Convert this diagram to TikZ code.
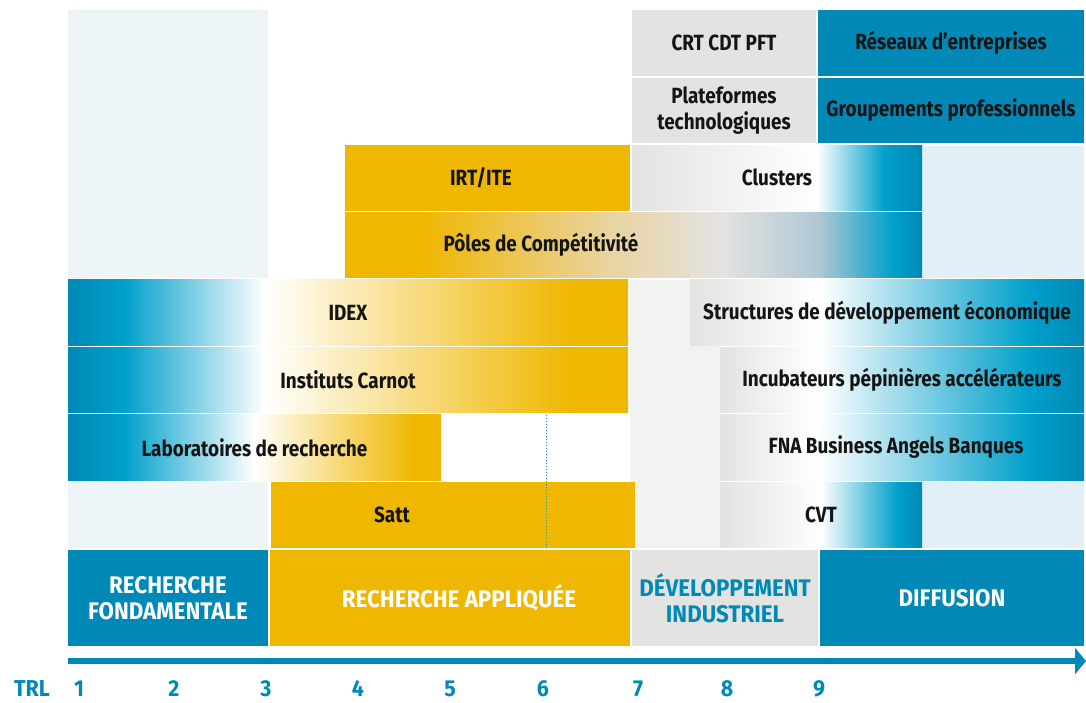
\documentclass[tikz,border=0pt]{standalone}
\usepackage{fontspec}
\setmainfont{Fira Sans}[FakeStretch=0.86]
\newfontfamily\phasefont{Fira Sans}[FakeStretch=0.93]
\usetikzlibrary{arrows.meta}

\definecolor{tblue}{HTML}{0089B6}
\definecolor{tcyan}{HTML}{00A0CB}
\definecolor{tyellow}{HTML}{F0B700}
\definecolor{tgray}{HTML}{E3E3E1}
\definecolor{tpale}{HTML}{EEF5F9}
\definecolor{tpaleb}{HTML}{E3EFF7}
\definecolor{tpaleg}{HTML}{F2F2F2}
\definecolor{tbeige}{HTML}{E9D3A0}
\definecolor{tmid}{HTML}{B0C8D4}
\definecolor{ttext}{HTML}{141414}

% gradients: the 25bp..75bp part is stretched over the box
\pgfdeclarehorizontalshading{idexshade}{100bp}{color(0bp)=(tblue); color(25bp)=(tblue); color(30bp)=(tcyan); color(42.5bp)=(white); color(70bp)=(tyellow); color(100bp)=(tyellow)}
\pgfdeclarehorizontalshading{laboshade}{100bp}{color(0bp)=(tblue); color(25bp)=(tblue); color(32.5bp)=(tcyan); color(50bp)=(white); color(71.5bp)=(tyellow); color(100bp)=(tyellow)}
\pgfdeclarehorizontalshading{clustershade}{100bp}{color(0bp)=(tgray); color(25bp)=(tgray); color(57bp)=(white); color(68.5bp)=(tcyan); color(75bp)=(tblue); color(100bp)=(tblue)}
\pgfdeclarehorizontalshading{poleshade}{100bp}{color(0bp)=(tyellow); color(25bp)=(tyellow); color(31.5bp)=(tyellow); color(47.8bp)=(tbeige); color(57.7bp)=(tgray); color(66bp)=(tmid); color(72.5bp)=(tcyan); color(75bp)=(tblue); color(100bp)=(tblue)}
\pgfdeclarehorizontalshading{structshade}{100bp}{color(0bp)=(tgray); color(25bp)=(tgray); color(41.5bp)=(white); color(68bp)=(tcyan); color(75bp)=(tblue); color(100bp)=(tblue)}
\pgfdeclarehorizontalshading{incubshade}{100bp}{color(0bp)=(tgray); color(25bp)=(tgray); color(38.5bp)=(white); color(67.5bp)=(tcyan); color(75bp)=(tblue); color(100bp)=(tblue)}
\pgfdeclarehorizontalshading{cvtshade}{100bp}{color(0bp)=(tgray); color(25bp)=(tgray); color(50bp)=(white); color(69bp)=(tcyan); color(75bp)=(tblue); color(100bp)=(tblue)}

\begin{document}
\begin{tikzpicture}[x=1pt,y=-1pt,
    slot/.style={minimum width=#1, minimum height=65.4pt, inner sep=0pt,
      font=\bfseries\fontsize{22}{26}\selectfont, text=ttext, align=center},
    phase/.style={minimum width=#1, minimum height=96pt, inner sep=0pt,
      font=\phasefont\bfseries\fontsize{24}{26}\selectfont, text=white, align=center},
    trl/.style={font=\phasefont\bfseries\fontsize{23}{24}\selectfont, text=tblue}]
  \useasboundingbox (0,0) rectangle (1086,702);

  % background areas
  \fill[tpale] (68,10) rectangle (268,278);
  \fill[tpale] (68,482) rectangle (268,548);
  \fill[tpaleg] (630,280) rectangle (720,548);
  \fill[tpaleb] (922,146) rectangle (1084,278);
  \fill[tpaleb] (922,482) rectangle (1084,548);

  % rows
  \node[slot=184pt, fill=tgray] (crt) at (724,43) {CRT CDT PFT};
  \node[slot=266pt, fill=tblue] (reseaux) at (951,43) {Réseaux d’entreprises};

  \node[slot=184pt, fill=tgray] (plateformes) at (724,110.4) {Plateformes\\technologiques};
  \node[slot=266pt, fill=tblue] (groupements) at (951,110.4) {Groupements professionnels};

  \node[slot=285pt, fill=tyellow] (irt) at (487.5,177.8) {};
  \node[slot=0pt] (irttxt) at (481,177.8) {IRT/ITE};
  \node[slot=290pt, shading=clustershade] (clusters) at (777,177.8) {Clusters};

  \node[slot=577pt, shading=poleshade] (poles) at (633.5,245.2) {};
  \node[slot=0pt] (polestxt) at (541,245.2) {Pôles de Compétitivité};

  \node[slot=560pt, shading=idexshade] (idex) at (348,312.6) {IDEX};
  \node[slot=394pt, shading=structshade] (structures) at (887,312.6) {Structures de développement économique};

  \node[slot=560pt, shading=idexshade] (carnot) at (348,380) {Instituts Carnot};
  \node[slot=364pt, shading=incubshade] (incubateurs) at (902,380) {Incubateurs pépinières accélérateurs};

  \node[slot=373pt, shading=laboshade] (labo) at (254.5,447.4) {Laboratoires de recherche};
  \node[slot=364pt, shading=incubshade] (fna) at (902,447.4) {};
  \node[slot=0pt] (fnatxt) at (896,447.4) {FNA Business Angels Banques};

  \node[slot=364pt, fill=tyellow] (satt) at (453,514.8) {};
  \node[slot=0pt] (satttxt) at (392,514.8) {Satt};
  \node[slot=202pt, shading=cvtshade] (cvt) at (821,514.8) {CVT};

  \coordinate (dotA) at (546,415);
  \coordinate (dotB) at (546,549);
  \draw[tcyan, dotted, line width=1pt] (dotA) -- (dotB);

  % phases
  \node[phase=200pt, fill=tblue] (fondamentale) at (168,598) {RECHERCHE\\FONDAMENTALE};
  \node[phase=360pt, fill=tyellow] (appliquee) at (450,598) {};
  \node[phase=0pt] (appliqueetxt) at (459,598) {RECHERCHE APPLIQUÉE};
  \node[phase=186pt, fill=tgray, text=tblue] (developpement) at (725,598) {DÉVELOPPEMENT\\INDUSTRIEL};
  \node[phase=264pt, fill=tblue] (diffusion) at (952,598) {DIFFUSION};

  % TRL axis
  \coordinate (axisL) at (68,661);
  \coordinate (axisR) at (1086,661);
  \draw[tblue, line width=6pt, -{Triangle[length=11pt,width=26pt]}] (axisL) -- (axisR);

  \node[trl] (trl) at (32,689) {TRL};
  \foreach \n/\x in {1/79,2/174,3/266,4/358,5/450,6/543,7/638,8/727,9/819}
    \node[trl] (trl\n) at (\x,689) {\n};
\end{tikzpicture}
\end{document}
